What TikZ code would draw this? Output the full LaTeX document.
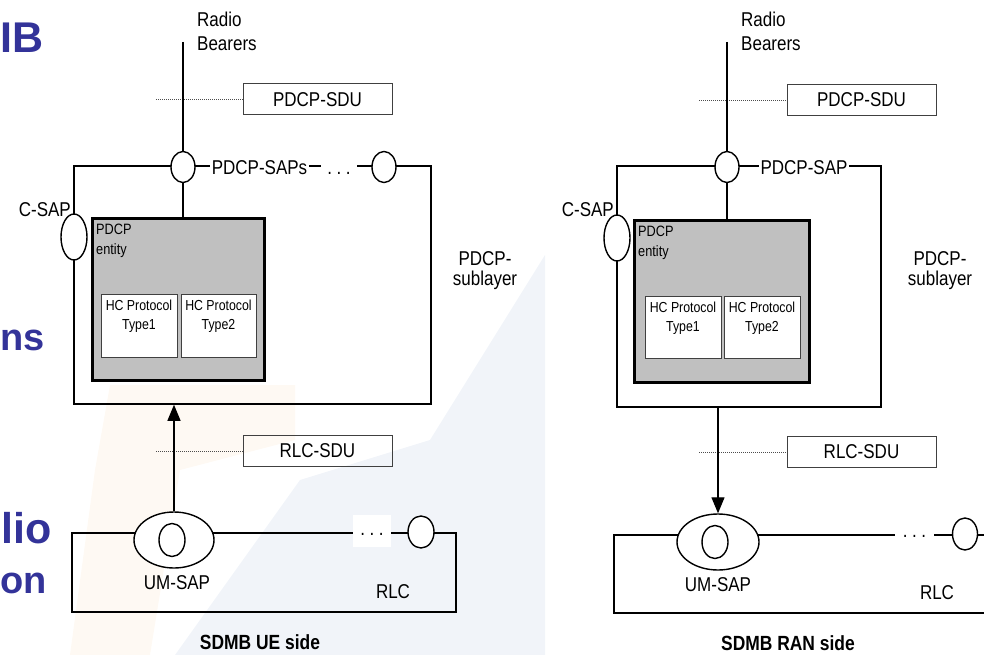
\documentclass[tikz,border=0pt]{standalone}
\usepackage{fontspec}
\setmainfont{Liberation Sans}[FakeStretch=0.85]
\newfontfamily\slidefont{Liberation Sans}
\usepackage{tikz}
\usetikzlibrary{arrows.meta,shapes.geometric}
\usepackage{xcolor}
\definecolor{slideblue}{RGB}{51,51,153}
\definecolor{entgray}{RGB}{192,192,192}
\definecolor{bgblue}{RGB}{241,244,249}
\definecolor{bgorange}{RGB}{254,249,243}
\newcommand{\sapdots}{.\kern4.5pt.\kern4.5pt.}

\begin{document}
\begin{tikzpicture}[x=1pt,y=-1pt,
     frame/.style={draw,line width=1.5pt,inner sep=0pt},
     sap/.style={draw,ellipse,fill=white,line width=1.4pt,inner sep=0pt,
       minimum width=24pt,minimum height=31pt},
     sdu/.style={draw=black!75,line width=1pt,minimum width=149pt,
       minimum height=31pt,font=\fontsize{20}{24}\selectfont},
     entity/.style={draw,fill=entgray,line width=3pt,minimum width=172pt,
       minimum height=162pt},
     hc/.style={draw=black!75,fill=white,line width=1pt,minimum width=76pt,
       minimum height=63pt},
     hclab/.style={anchor=north,align=center,inner sep=0pt,
       font=\fontsize{14.5}{19}\selectfont},
     lab/.style={inner sep=0pt,font=\fontsize{20}{24}\selectfont},
     onframe/.style={lab,fill=white,inner sep=2pt},
     dots/.style={lab,fill=white,text height=9pt,text depth=0pt,
       minimum height=32pt},
     guide/.style={draw=black!70,line width=0.8pt,dash pattern=on 1.2pt off 0.8pt},
     bear/.style={line width=1.4pt},
     flow/.style={line width=1.2pt,-{Triangle[length=16pt,width=13pt]}},
     side/.style={inner sep=0pt,font=\bfseries\fontsize{20.5}{24}\selectfont},
     slide/.style={inner sep=0pt,text=slideblue,
       font=\slidefont\bfseries\fontsize{43}{50}\selectfont}]
    \useasboundingbox (0,0) rectangle (984,655);
    \clip (0,0) rectangle (984,655);
    % slide background
    \fill[bgblue] (545,255) -- (545,655) -- (175,655) -- (300,480)
      -- (430,440) -- cycle;
    \fill[bgorange] (110,385) -- (295,385) -- (295,440) -- (180,470)
      -- (150,655) -- (70,655) -- (95,470) -- cycle;
    \node[slide,anchor=base east] (tit) at (44,53) {IB};
    \node[slide,anchor=base east,font=\slidefont\bfseries\fontsize{38}{44}\selectfont]
      (txa) at (45,350) {ns};
    \node[slide,anchor=base east] (txb) at (52,543) {lio};
    \node[slide,anchor=base east,font=\slidefont\bfseries\fontsize{38}{44}\selectfont]
      (txc) at (47,593) {on};

    % UE side
    \coordinate (rbU) at (183,42);
    \node[lab,align=left,anchor=west] (rbtU) at (197,31) {Radio\\Bearers};
    \node[sdu] (sduU) at (317.5,99.5) {PDCP-SDU};
    \coordinate (sdugU) at (156,99.5);
    \draw[guide] (sdugU) -- (sduU.west);
    \node[frame,minimum width=357pt,minimum height=238pt] (pdcpU) at (252.5,285) {};
    \node[entity] (entU) at (178,299) {};
    \node[lab,align=left,anchor=north west,font=\fontsize{15}{20}\selectfont]
      (entlU) at (96,224) {PDCP\\entity};
    \node[hc] (hc1U) at (139,325.5) {};
    \node[hc,minimum width=75pt] (hc2U) at (218.5,325.5) {};
    \node[hclab] (hct1U) at (139,300) {HC Protocol\\Type1};
    \node[hclab] (hct2U) at (218.5,300) {HC Protocol\\Type2};
    \node[sap] (sapU) at (183,167) {};
    \draw[bear] (rbU) -- (sapU.north);
    \draw[bear] (sapU.south) -- (sapU.south |- entU.north);
    \node[onframe] (sapsU) at (259.5,168) {PDCP-SAPs};
    \node[dots,minimum width=36pt,minimum height=20pt] (dotsU1) at (339,170) {\sapdots};
    \node[sap] (sapU2) at (384,167) {};
    \node[sap,minimum width=26pt,minimum height=46pt] (csapU) at (74,237) {};
    \node[lab,anchor=south east] (csaplU) at (71,217) {C-SAP};
    \node[lab,align=center,font=\fontsize{20}{20}\selectfont] (subU) at (485,271)
      {PDCP-\\sublayer};
    \node[sdu] (rsduU) at (317.5,451) {RLC-SDU};
    \coordinate (rsdugU) at (156,451);
    \draw[guide] (rsdugU) -- (rsduU.west);
    \node[frame,minimum width=384pt,minimum height=79pt] (rlcU) at (264,572.5) {};
    \node[sap,minimum width=80pt,minimum height=56pt] (umU) at (174,540) {};
    \node[sap,minimum width=26pt,minimum height=33pt] (umiU) at (172,540) {};
    \node[lab] (umlU) at (177,583) {UM-SAP};
    \node[dots,minimum width=38pt] (dotsU2) at (372,531) {\sapdots};
    \node[sap,minimum width=26pt,minimum height=32pt] (rsapU) at (421,532) {};
    \node[lab] (rlclU) at (393,592) {RLC};
    \draw[flow] (umU.north) -- (umU.north |- pdcpU.south);
    \node[side] (sideU) at (260,642) {SDMB UE side};

    % RAN side
    \coordinate (rbR) at (727,42);
    \node[lab,align=left,anchor=west] (rbtR) at (741,31) {Radio\\Bearers};
    \node[sdu] (sduR) at (861.5,100) {PDCP-SDU};
    \coordinate (sdugR) at (699,100);
    \draw[guide] (sdugR) -- (sduR.west);
    \node[frame,minimum width=264pt,minimum height=241pt] (pdcpR) at (749,286.5) {};
    \node[entity,minimum width=175pt] (entR) at (721.5,301) {};
    \node[lab,align=left,anchor=north west,font=\fontsize{15}{20}\selectfont]
      (entlR) at (638,226) {PDCP\\entity};
    \node[hc,minimum height=62pt] (hc1R) at (683,327) {};
    \node[hc,minimum height=62pt] (hc2R) at (762,327) {};
    \node[hclab] (hct1R) at (683,302) {HC Protocol\\Type1};
    \node[hclab] (hct2R) at (762,302) {HC Protocol\\Type2};
    \node[sap] (sapR) at (727,167) {};
    \draw[bear] (rbR) -- (sapR.north);
    \draw[bear] (sapR.south) -- (sapR.south |- entR.north);
    \node[onframe] (sapsR) at (804,168) {PDCP-SAP};
    \node[sap,minimum width=26pt,minimum height=46pt] (csapR) at (617,238) {};
    \node[lab,anchor=south east] (csaplR) at (614,217) {C-SAP};
    \node[lab,align=center,font=\fontsize{20}{20}\selectfont] (subR) at (940,271)
      {PDCP-\\sublayer};
    \node[sdu] (rsduR) at (861.5,452) {RLC-SDU};
    \coordinate (rsdugR) at (699,452);
    \draw[guide] (rsdugR) -- (rsduR.west);
    \node[frame,minimum width=386pt,minimum height=78pt] (rlcR) at (807,574) {};
    \node[sap,minimum width=82pt,minimum height=56pt] (umR) at (718,542) {};
    \node[sap,minimum width=26pt,minimum height=33pt] (umiR) at (715,542) {};
    \node[lab] (umlR) at (718,585) {UM-SAP};
    \node[dots,minimum width=39pt] (dotsR) at (914.5,533) {\sapdots};
    \node[sap,minimum width=25pt,minimum height=32pt] (rsapR) at (965,534) {};
    \node[lab] (rlclR) at (937,593) {RLC};
    \draw[flow] (umR.north |- pdcpR.south) -- (umR.north);
    \node[side] (sideR) at (788,643) {SDMB RAN side};
  \end{tikzpicture}
\end{document}
